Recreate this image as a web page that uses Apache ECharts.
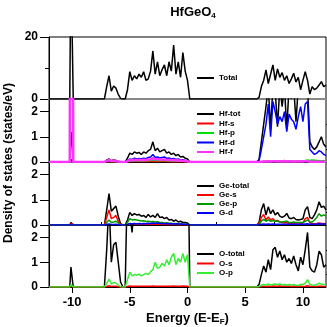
<!DOCTYPE html>
<html>
<head>
<meta charset="utf-8">
<script src="https://cdn.jsdelivr.net/npm/echarts@6.0.0/dist/echarts.min.js"></script>
<style>
  html, body { margin: 0; padding: 0; background: #fff; }
  #chart { width: 327px; height: 327px; }
</style>
</head>
<body>
<div id="chart"></div>
<script>
// energy grid (eV): semicore spike, lower band, valence band, conduction band
var energy = [-12, -10.2, -10.1, -10.0, -9.9, -9.8,
  -7.2, -7.0, -6.8, -6.6, -6.4, -6.2, -6.0, -5.8, -5.6,
  -5.4, -5.2, -5.0, -4.8, -4.6, -4.4, -4.2, -4.0, -3.8, -3.6, -3.4, -3.2, -3.0, -2.8, -2.6,
  -2.4, -2.2, -2.0, -1.8, -1.6, -1.4, -1.2, -1.0, -0.8, -0.6, -0.4, -0.2, 0.0, 0.2,
  6.0, 6.2, 6.4, 6.6, 6.8, 7.0, 7.2, 7.4, 7.6, 7.8, 8.0, 8.2, 8.4, 8.6, 8.8, 9.0,
  9.2, 9.4, 9.6, 9.8, 10.0, 10.2, 10.4, 10.6, 10.8, 11.0, 11.2, 11.4, 11.6, 11.8, 12.0];

var total = [0, 0, 45, 45, 0, 0,
  0, 4, 7.5, 2.5, 4.2, 3.5, 1.5, 0.2, 0,
  0, 3, 8.8, 6, 7.5, 6.5, 8, 7, 8.8, 6, 6.5, 9, 15.5, 8, 12, 7.5, 9.5, 11, 7.5, 12, 9, 17.4, 8, 12, 7, 15, 9, 6, 0,
  0, 0.5, 4, 6, 9.4, 5, 8, 11, 6, 9.7, 7, 8.5, 6, 7.5, 5, 6.5, 8.3, 5.5, 7, 3, 6, 8.8, 6, 1.6, 4, 3, 3.5, 4.5, 5.6, 4, 4.5];

var hfTot = [0, 0, 0.7, 1.2, 0, 0,
  0, 0.08, 0.12, 0.05, 0.08, 0.06, 0.03, 0, 0,
  0, 0.15, 0.35, 0.3, 0.4, 0.35, 0.38, 0.3, 0.4, 0.35, 0.45, 0.5, 0.8, 0.45, 0.55, 0.4, 0.45, 0.5, 0.35, 0.4, 0.3, 0.35, 0.25, 0.3, 0.2, 0.22, 0.15, 0.12, 0,
  0, 0.1, 0.8, 1.5, 2.2, 3, 1.3, 3, 2.8, 1.4, 3, 2.2, 3, 1.3, 3, 2.5, 3, 1.6, 3, 3, 2.8, 3, 3, 0.8, 0.6, 0.5, 0.6, 0.8, 1.0, 0.7, 0.6];
var hfS = [0, 0, 0, 0, 0, 0,
  0, 0.01, 0.02, 0.01, 0.01, 0.01, 0, 0, 0,
  0, 0.01, 0.02, 0.02, 0.02, 0.02, 0.02, 0.02, 0.02, 0.02, 0.02, 0.02, 0.03, 0.02, 0.02, 0.02, 0.02, 0.02, 0.02, 0.02, 0.01, 0.01, 0.01, 0.01, 0.01, 0.01, 0.01, 0.01, 0,
  0, 0, 0.01, 0.02, 0.02, 0.03, 0.02, 0.03, 0.04, 0.03, 0.05, 0.03, 0.06, 0.03, 0.04, 0.03, 0.03, 0.02, 0.03, 0.03, 0.04, 0.03, 0.04, 0.02, 0.02, 0.02, 0.02, 0.02, 0.02, 0.02, 0.02];
var hfP = [0, 0, 0, 0, 0, 0,
  0, 0.02, 0.03, 0.02, 0.02, 0.02, 0.01, 0, 0,
  0, 0.02, 0.05, 0.04, 0.05, 0.05, 0.05, 0.04, 0.05, 0.05, 0.06, 0.06, 0.08, 0.06, 0.06, 0.05, 0.06, 0.06, 0.05, 0.05, 0.04, 0.05, 0.04, 0.04, 0.03, 0.03, 0.02, 0.02, 0,
  0, 0, 0.01, 0.02, 0.02, 0.03, 0.02, 0.03, 0.02, 0.02, 0.03, 0.02, 0.03, 0.02, 0.03, 0.02, 0.03, 0.02, 0.03, 0.04, 0.05, 0.06, 0.08, 0.06, 0.08, 0.07, 0.06, 0.05, 0.05, 0.05, 0.05];
var hfD = [0, 0, 0, 0.1, 0, 0,
  0, 0.03, 0.05, 0.03, 0.04, 0.03, 0.01, 0, 0,
  0, 0.05, 0.12, 0.1, 0.15, 0.12, 0.14, 0.12, 0.15, 0.13, 0.18, 0.2, 0.3, 0.18, 0.2, 0.16, 0.18, 0.2, 0.14, 0.16, 0.12, 0.14, 0.1, 0.12, 0.08, 0.09, 0.06, 0.05, 0,
  0, 0.05, 0.5, 1.0, 1.5, 2.3, 1.0, 2.4, 2.0, 1.5, 1.8, 1.6, 2.0, 1.2, 1.9, 1.7, 1.6, 1.3, 1.8, 2.2, 1.6, 2.3, 2.4, 0.5, 0.4, 0.3, 0.35, 0.45, 0.4, 0.3, 0.25];
var hfF = [0, 0, 30, 30, 0, 0,
  0, 0.05, 0.08, 0.04, 0.05, 0.04, 0.02, 0, 0,
  0, 0.03, 0.08, 0.07, 0.09, 0.08, 0.09, 0.07, 0.09, 0.08, 0.1, 0.1, 0.15, 0.1, 0.12, 0.09, 0.1, 0.1, 0.08, 0.09, 0.07, 0.08, 0.06, 0.07, 0.05, 0.05, 0.04, 0.03, 0,
  0, 0, 0.01, 0.02, 0.02, 0.03, 0.02, 0.03, 0.03, 0.02, 0.03, 0.02, 0.03, 0.02, 0.03, 0.02, 0.02, 0.02, 0.02, 0.03, 0.02, 0.03, 0.03, 0.01, 0.01, 0.01, 0.01, 0.01, 0.01, 0.01, 0.01];

var geTot = [0, 0, 0.1, 0.1, 0, 0,
  0, 0.6, 1.25, 0.55, 0.65, 0.75, 0.35, 0.05, 0,
  0, 0.2, 0.5, 0.38, 0.45, 0.4, 0.42, 0.35, 0.38, 0.3, 0.42, 0.32, 0.38, 0.3, 0.45, 0.3, 0.32, 0.25, 0.3, 0.2, 0.22, 0.15, 0.2, 0.12, 0.15, 0.1, 0.1, 0.08, 0,
  0, 0.1, 0.6, 0.85, 0.4, 0.72, 0.45, 0.6, 0.4, 0.5, 0.35, 0.3, 0.35, 0.46, 0.28, 0.25, 0.3, 0.22, 0.2, 0.22, 0.25, 0.6, 0.73, 0.3, 0.25, 0.4, 0.6, 0.92, 0.7, 0.75, 0.6];
var geS = [0, 0, 0.05, 0.05, 0, 0,
  0, 0.3, 0.6, 0.25, 0.3, 0.38, 0.15, 0.02, 0,
  0, 0.02, 0.05, 0.04, 0.05, 0.04, 0.05, 0.04, 0.04, 0.03, 0.04, 0.03, 0.04, 0.03, 0.04, 0.03, 0.03, 0.02, 0.03, 0.02, 0.02, 0.02, 0.02, 0.01, 0.02, 0.01, 0.01, 0.01, 0,
  0, 0.05, 0.3, 0.42, 0.2, 0.32, 0.2, 0.25, 0.15, 0.18, 0.12, 0.1, 0.08, 0.1, 0.06, 0.05, 0.05, 0.04, 0.04, 0.05, 0.08, 0.25, 0.3, 0.1, 0.05, 0.05, 0.06, 0.08, 0.06, 0.06, 0.05];
var geP = [0, 0, 0, 0, 0, 0,
  0, 0.1, 0.2, 0.1, 0.12, 0.15, 0.08, 0.01, 0,
  0, 0.1, 0.25, 0.2, 0.22, 0.2, 0.18, 0.16, 0.17, 0.14, 0.15, 0.13, 0.14, 0.12, 0.13, 0.1, 0.1, 0.08, 0.09, 0.07, 0.07, 0.05, 0.06, 0.04, 0.05, 0.03, 0.03, 0.02, 0,
  0, 0.02, 0.15, 0.22, 0.15, 0.2, 0.15, 0.18, 0.15, 0.16, 0.12, 0.12, 0.14, 0.15, 0.1, 0.1, 0.12, 0.1, 0.1, 0.1, 0.1, 0.15, 0.2, 0.12, 0.12, 0.2, 0.3, 0.45, 0.35, 0.4, 0.35];
var geD = [0, 0, 0, 0, 0, 0,
  0, 0.02, 0.04, 0.02, 0.02, 0.03, 0.01, 0, 0,
  0, 0.02, 0.06, 0.05, 0.06, 0.05, 0.06, 0.05, 0.06, 0.05, 0.07, 0.06, 0.08, 0.06, 0.08, 0.06, 0.06, 0.05, 0.06, 0.05, 0.05, 0.04, 0.05, 0.04, 0.04, 0.03, 0.03, 0.03, 0,
  0, 0.01, 0.03, 0.04, 0.03, 0.04, 0.03, 0.04, 0.03, 0.03, 0.03, 0.03, 0.03, 0.03, 0.03, 0.03, 0.03, 0.03, 0.03, 0.03, 0.03, 0.04, 0.05, 0.03, 0.03, 0.03, 0.04, 0.05, 0.04, 0.04, 0.04];

var oTot = [0, 0, 0.8, 0.8, 0, 0,
  0, 1.5, 3.5, 1.0, 1.7, 1.8, 1.0, 0.2, 0,
  0, 4.5, 3, 2.2, 3.5, 5, 6, 5.5, 6.5, 5, 6, 7, 8, 6, 7, 6.5, 7.5, 8, 7, 8, 7.5, 9, 7, 8, 7.5, 9, 8, 7, 0,
  0, 0.1, 0.5, 0.85, 0.6, 1.1, 0.7, 1.5, 1.6, 1.2, 1.45, 1.1, 1.3, 1.0, 1.15, 0.95, 1.25, 0.9, 0.65, 1.2, 0.9, 1.5, 2.2, 0.8, 0.65, 0.6, 0.9, 1.45, 1.3, 0.8, 0.9];
var oS = [0, 0, 0.03, 0.03, 0, 0,
  0, 0.02, 0.05, 0.02, 0.03, 0.03, 0.01, 0, 0,
  0, 0.02, 0.04, 0.03, 0.03, 0.03, 0.03, 0.03, 0.03, 0.03, 0.03, 0.03, 0.04, 0.03, 0.03, 0.03, 0.03, 0.03, 0.03, 0.03, 0.03, 0.04, 0.03, 0.03, 0.03, 0.04, 0.03, 0.03, 0,
  0, 0, 0.02, 0.03, 0.02, 0.03, 0.02, 0.04, 0.03, 0.03, 0.04, 0.03, 0.03, 0.03, 0.03, 0.02, 0.03, 0.02, 0.02, 0.03, 0.02, 0.03, 0.05, 0.03, 0.02, 0.02, 0.02, 0.03, 0.03, 0.02, 0.02];
var oP = [0, 0, 0.1, 0.1, 0, 0,
  0, 0.15, 0.32, 0.12, 0.18, 0.16, 0.08, 0.01, 0,
  0, 0.3, 0.6, 0.45, 0.5, 0.48, 0.52, 0.45, 0.5, 0.55, 0.5, 0.62, 0.7, 1.0, 0.75, 0.8, 0.95, 0.85, 1.1, 0.9, 1.2, 1.35, 0.9, 1.15, 1.0, 1.35, 1.0, 1.3, 0,
  0, 0.02, 0.08, 0.1, 0.08, 0.12, 0.08, 0.1, 0.12, 0.1, 0.12, 0.08, 0.1, 0.08, 0.1, 0.08, 0.1, 0.07, 0.06, 0.1, 0.1, 0.15, 0.3, 0.1, 0.08, 0.07, 0.1, 0.15, 0.12, 0.1, 0.1];

var xMajor = [-10, -5, 0, 5, 10];
var xMinor = [-7.5, -2.5, 2.5, 7.5];
var yMajor = [0, 1, 2];
var yMinor = [0.5, 1.5];

var FONT = 'Liberation Sans, Arial, sans-serif';
var panelTop = [37, 99, 162, 225];
var panelHeight = [62, 63, 63, 62];

function line(name, values, color, panel, width) {
  return {
    type: 'line',
    name: name,
    xAxisIndex: panel,
    yAxisIndex: panel,
    data: energy.map(function (e, i) { return [e, values[i]]; }),
    symbol: 'none',
    showSymbol: false,
    lineStyle: { color: color, width: width || 1.5 },
    itemStyle: { color: color },
    emphasis: { disabled: true },
    animation: false
  };
}

var grids = panelTop.map(function (t, i) {
  return { left: 49, width: 277, top: t, height: panelHeight[i], show: true, borderColor: '#000', borderWidth: 1 };
});

var xAxes = panelTop.map(function (t, i) {
  var bottom = i === 3;
  return {
    gridIndex: i, type: 'value', min: -12, max: 12, z: i === 0 ? 3 : 0,
    splitLine: { show: false },
    axisLine: { onZero: false, lineStyle: { color: i === 0 ? '#888' : '#000', width: i === 0 ? 2 : 1 } },
    axisTick: { show: bottom, customValues: xMajor, length: 6, lineStyle: { color: '#000' } },
    axisLabel: {
      show: bottom, customValues: xMajor, margin: 9,
      color: '#000', fontSize: 13, fontWeight: 'bold', fontFamily: FONT
    },
    name: bottom ? '{a|Energy (E-E}{b|F}{a|)}' : '',
    nameLocation: 'middle', nameGap: 24,
    nameTextStyle: {
      rich: {
        a: { fontSize: 13, fontWeight: 'bold', fontFamily: FONT, color: '#000' },
        b: { fontSize: 8, fontWeight: 'bold', fontFamily: FONT, color: '#000', padding: [7, 0, 0, 0] }
      }
    }
  };
});
// minor ticks on the bottom energy axis
xAxes.push({
  gridIndex: 3, type: 'value', min: -12, max: 12,
  splitLine: { show: false }, axisLine: { show: false, onZero: false }, axisLabel: { show: false },
  axisTick: { customValues: xMinor, length: 3, lineStyle: { color: '#000' } }
});

var labelStyle = { color: '#000', fontSize: 12, fontWeight: 'bold', fontFamily: FONT, margin: 11 };
var yAxes = [{
  gridIndex: 0, type: 'value', min: 0, max: 20, interval: 20,
  splitLine: { show: false },
  axisLine: { onZero: false, lineStyle: { color: '#000' } },
  axisTick: { length: 9, lineStyle: { color: '#000' } },
  minorTick: { show: true, splitNumber: 2, length: 4, lineStyle: { color: '#000' } },
  axisLabel: labelStyle
}];
[1, 2, 3].forEach(function (i) {
  yAxes.push({
    gridIndex: i, type: 'value', min: 0, max: 2.5,
    splitLine: { show: false },
    axisLine: { onZero: false, lineStyle: { color: '#000' } },
    axisTick: { customValues: yMajor, length: 9, lineStyle: { color: '#000' } },
    axisLabel: Object.assign({ customValues: yMajor }, labelStyle)
  });
});
[1, 2, 3].forEach(function (i) {
  yAxes.push({
    gridIndex: i, type: 'value', min: 0, max: 2.5,
    splitLine: { show: false }, axisLine: { show: false, onZero: false }, axisLabel: { show: false },
    axisTick: { customValues: yMinor, length: 4, lineStyle: { color: '#000' } }
  });
});

function legend(names, top, gap) {
  return {
    data: names, orient: 'vertical', left: 197, top: top, padding: 0,
    icon: 'rect', itemWidth: 17, itemHeight: 2, itemGap: gap, selectedMode: false,
    textStyle: { fontSize: 8, lineHeight: 9, fontWeight: 'bold', fontFamily: FONT, color: '#000' }
  };
}

var chart = echarts.init(document.getElementById('chart'), null, { renderer: 'canvas' });
chart.setOption({
  backgroundColor: '#fff',
  animation: false,
  title: {
    text: '{a|HfGeO}{b|4}', left: 188, top: 0, textAlign: 'center',
    textStyle: {
      rich: {
        a: { fontSize: 13, fontWeight: 'bold', fontFamily: FONT, color: '#000' },
        b: { fontSize: 8, fontWeight: 'bold', fontFamily: FONT, color: '#000', padding: [7, 0, 0, 0] }
      }
    }
  },
  graphic: [{
    type: 'text', x: 9, y: 163, rotation: Math.PI / 2,
    style: {
      text: 'Density of states (states/eV)', fill: '#000',
      font: 'bold 12px ' + FONT, align: 'center', verticalAlign: 'middle'
    }
  }],
  legend: [
    legend(['Total'], 73.5, 0.5),
    legend(['Hf-tot', 'Hf-s', 'Hf-p', 'Hf-d', 'Hf-f'], 109.5, 0.5),
    legend(['Ge-total', 'Ge-s', 'Ge-p', 'G-d'], 181.5, 0),
    legend(['O-total', 'O-s', 'O-p'], 249.5, 0.5)
  ],
  grid: grids,
  xAxis: xAxes,
  yAxis: yAxes,
  series: [
    line('Total', total, '#000', 0),
    line('Hf-tot', hfTot, '#000', 1),
    line('Hf-s', hfS, '#ff0000', 1),
    line('Hf-p', hfP, '#00dd00', 1),
    line('Hf-d', hfD, '#0000ff', 1),
    line('Hf-f', hfF, '#ff33ff', 1, 2.5),
    line('Ge-total', geTot, '#000', 2),
    line('Ge-s', geS, '#ff0000', 2),
    line('Ge-p', geP, '#009900', 2),
    line('G-d', geD, '#0000ff', 2),
    line('O-total', oTot, '#000', 3),
    line('O-s', oS, '#ff0000', 3),
    line('O-p', oP, '#33ee33', 3)
  ]
});
</script>
</body>
</html>
